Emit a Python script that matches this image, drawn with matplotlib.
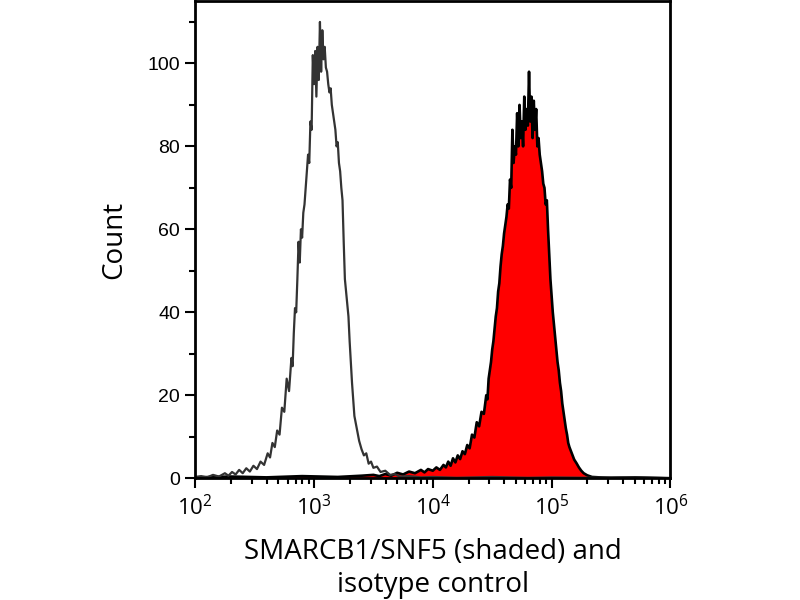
import numpy as np
import matplotlib
matplotlib.use("Agg")
import matplotlib.pyplot as plt
from matplotlib.ticker import LogLocator, MultipleLocator, LogFormatterMathtext

plt.rcParams['font.family'] = ['Open Sans', 'DejaVu Sans']
plt.rcParams['mathtext.fontset'] = 'custom'
plt.rcParams['mathtext.rm'] = 'Liberation Sans'

# isotype control (unshaded), channel position in log10 units and count
iso_log = [2.00, 2.05, 2.10, 2.15, 2.20, 2.25, 2.28, 2.31, 2.34, 2.37, 2.40, 2.43,
           2.46, 2.49, 2.52, 2.55, 2.58, 2.61, 2.63, 2.65, 2.67, 2.69, 2.71, 2.73,
           2.75, 2.77, 2.79, 2.81, 2.82, 2.83, 2.84, 2.85, 2.86, 2.87, 2.88, 2.89,
           2.90, 2.91, 2.92, 2.93, 2.94, 2.95, 2.96, 2.97, 2.98, 2.99, 3.00, 3.01,
           3.02, 3.03, 3.04, 3.05, 3.06, 3.07, 3.08, 3.09, 3.10, 3.11, 3.12, 3.13,
           3.14, 3.15, 3.16, 3.17, 3.18, 3.19, 3.20, 3.21, 3.22, 3.23, 3.24, 3.25,
           3.26, 3.27, 3.28, 3.29, 3.30, 3.31, 3.32, 3.33, 3.34, 3.36, 3.38, 3.40,
           3.42, 3.44, 3.46, 3.48, 3.50, 3.53, 3.56, 3.60, 3.64, 3.68, 3.72, 3.80,
           3.90, 4.00, 4.20, 4.50, 4.80, 5.00, 5.30, 5.60, 6.00]
iso_count = [0.3, 0.5, 0.2, 0.8, 0.4, 1.2, 0.6, 1.5, 0.9, 2.0, 1.2, 2.4,
             1.6, 3.0, 2.2, 4.0, 3.2, 6.0, 5.0, 8.5, 7.5, 11.5, 10.5, 17.0,
             16.0, 24.0, 21.0, 29.0, 27.0, 35.0, 41.0, 40.0, 48.0, 57.0, 52.0, 60.0,
             58.0, 64.0, 66.0, 70.0, 74.0, 78.0, 76.0, 86.0, 84.0, 102.0, 95.0, 103.0,
             92.0, 104.0, 96.0, 110.0, 98.0, 108.0, 101.0, 104.0, 99.0, 98.0, 95.0, 93.0,
             94.0, 90.0, 88.0, 86.0, 84.0, 80.0, 81.0, 76.0, 74.0, 70.0, 67.0, 57.0,
             48.0, 45.0, 42.0, 39.0, 33.0, 28.0, 23.0, 19.0, 15.0, 12.0, 9.0, 7.0,
             5.5, 6.0, 3.5, 4.0, 2.5, 2.8, 1.5, 1.8, 0.8, 1.0, 0.4, 0.5,
             0.2, 0.3, 0.1, 0.3, 0.1, 0.2, 0.1, 0.2, 0.0]

# SMARCB1/SNF5 stained sample (shaded)
smarc_log = [2.00, 2.30, 2.60, 2.90, 3.20, 3.40, 3.50, 3.55, 3.60, 3.65, 3.70, 3.75,
             3.80, 3.85, 3.90, 3.93, 3.96, 4.00, 4.03, 4.06, 4.09, 4.11, 4.13, 4.15,
             4.17, 4.19, 4.21, 4.23, 4.25, 4.27, 4.29, 4.31, 4.33, 4.35, 4.37, 4.39,
             4.41, 4.43, 4.45, 4.46, 4.47, 4.48, 4.49, 4.50, 4.51, 4.52, 4.53, 4.54,
             4.55, 4.56, 4.57, 4.58, 4.59, 4.60, 4.61, 4.62, 4.63, 4.64, 4.65, 4.66,
             4.67, 4.68, 4.69, 4.70, 4.71, 4.72, 4.73, 4.74, 4.75, 4.76, 4.77, 4.78,
             4.79, 4.80, 4.81, 4.82, 4.83, 4.84, 4.85, 4.86, 4.87, 4.88, 4.89, 4.90,
             4.91, 4.92, 4.93, 4.94, 4.95, 4.96, 4.97, 4.98, 4.99, 5.00, 5.01, 5.02,
             5.03, 5.04, 5.05, 5.06, 5.07, 5.08, 5.09, 5.10, 5.11, 5.12, 5.13, 5.14,
             5.15, 5.17, 5.19, 5.21, 5.23, 5.25, 5.27, 5.30, 5.34, 5.40, 5.50, 5.70,
             6.00]
smarc_count = [0.2, 0.4, 0.2, 0.5, 0.3, 0.6, 0.8, 0.5, 1.0, 0.6, 1.3, 0.9,
               1.6, 1.2, 2.0, 1.4, 2.2, 1.8, 2.6, 2.0, 3.2, 2.6, 4.0, 3.0,
               4.8, 3.8, 5.5, 4.6, 6.5, 5.8, 8.0, 7.2, 10.5, 9.8, 13.5, 12.5,
               16.0, 15.5, 20.0, 19.0, 24.0, 26.0, 28.0, 31.0, 33.0, 36.0, 39.0, 41.0,
               45.0, 47.0, 51.0, 54.0, 56.0, 59.0, 61.0, 63.0, 66.0, 65.0, 72.0, 70.0,
               84.0, 76.0, 80.0, 78.0, 88.0, 80.0, 90.0, 82.0, 86.0, 80.0, 92.0, 84.0,
               89.0, 85.0, 98.0, 86.0, 92.0, 82.0, 91.0, 84.0, 89.0, 80.0, 82.0, 78.0,
               76.0, 74.0, 71.0, 70.0, 66.0, 67.0, 60.0, 54.0, 48.0, 44.0, 40.0, 37.0,
               34.0, 31.0, 28.0, 26.0, 23.0, 21.0, 18.0, 16.0, 14.0, 12.0, 10.5, 8.5,
               7.5, 6.0, 4.5, 3.6, 2.6, 1.8, 1.2, 0.7, 0.3, 0.2, 0.1, 0.2,
               0.0]

iso_x = 10 ** np.array(iso_log)
smarc_x = 10 ** np.array(smarc_log)

fig = plt.figure(figsize=(8, 6), dpi=100)
ax = fig.add_axes([0.244, 0.203, 0.594, 0.795])

ax.fill_between(smarc_x, smarc_count, 0, color='#ff0000', linewidth=0)
ax.plot(smarc_x, smarc_count, color='black', linewidth=1.9)
ax.plot(iso_x, iso_count, color='#333333', linewidth=1.6)

ax.set_xscale('log')
ax.set_xlim(1e2, 1e6)
ax.set_ylim(0, 115)

ax.xaxis.set_major_locator(LogLocator(base=10, numticks=10))
ax.xaxis.set_minor_locator(LogLocator(base=10, subs=np.arange(2, 10), numticks=20))
ax.xaxis.set_major_formatter(LogFormatterMathtext())
ax.yaxis.set_major_locator(MultipleLocator(20))
ax.yaxis.set_minor_locator(MultipleLocator(10))

for s in ax.spines.values():
    s.set_linewidth(2)
ax.tick_params(axis='both', which='major', direction='out', length=7, width=1.5)
ax.tick_params(axis='both', which='minor', direction='out', length=4, width=1.5)
ax.tick_params(axis='x', which='major', pad=5, labelsize=16)
ax.tick_params(axis='y', which='major', pad=4, labelsize=14)
for lab in ax.get_yticklabels():
    lab.set_fontfamily(['Liberation Sans', 'DejaVu Sans'])

ax.set_ylabel('Count', fontsize=20, labelpad=14)
ax.set_xlabel('SMARCB1/SNF5 (shaded) and\nisotype control', fontsize=20,
              labelpad=13, linespacing=1.25)

fig.savefig('out.png', dpi=100)
